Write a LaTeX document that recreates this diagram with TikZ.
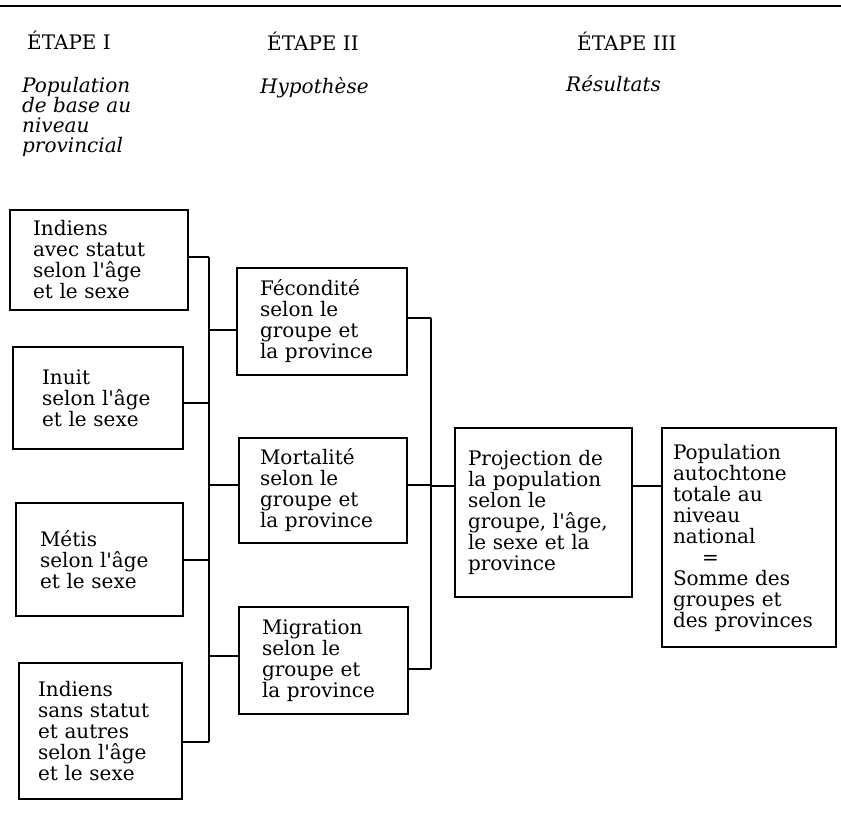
\documentclass[tikz,border=0pt]{standalone}
\usepackage{fontspec}
\setmainfont{DejaVu Serif}[Ligatures=TeXOff]
\tikzset{
  boite/.style={draw, line width=2pt, align=left, inner ysep=0pt,
    font=\fontsize{20}{21}\selectfont},
  lien/.style={line width=2pt},
  titre/.style={anchor=base west, inner sep=0pt, font=\fontsize{20}{20}\selectfont},
  soustitre/.style={anchor=north west, inner sep=0pt, align=left,
    font=\fontsize{20}{20}\selectfont\itshape}
}
\begin{document}
\begin{tikzpicture}[x=1pt,y=-1pt]
      \useasboundingbox (0,0) rectangle (841,835);
      \draw[line width=1.5pt] (0,6) -- (841,6);
      \draw
        (27,49) node[titre] (t1){ÉTAPE I}
        (267,50) node[titre] (t2){ÉTAPE II}
        (577,50) node[titre] (t3){ÉTAPE III}
        (22,77) node[soustitre] (s1){Population\\de base au\\niveau\\provincial}
        (260,77) node[soustitre] (s2){Hypothèse}
        (566,75) node[soustitre] (s3){Résultats};
      \draw
        (99,260) node[boite, inner xsep=23pt, text width=132pt, minimum height=100pt] (a1)
          {Indiens\\avec statut\\selon l'âge\\et le sexe}
        (98,398) node[boite, inner xsep=29pt, text width=112pt, minimum height=102pt] (a2)
          {Inuit\\selon l'âge\\et le sexe}
        (99.5,559.5) node[boite, inner xsep=24pt, text width=119pt, minimum height=113pt] (a3)
          {Métis\\selon l'âge\\et le sexe}
        (100.5,731) node[boite, inner xsep=19pt, text width=125pt, minimum height=136pt] (a4)
          {Indiens\\sans statut\\et autres\\selon l'âge\\et le sexe}
        (322,321.5) node[boite, inner xsep=23pt, text width=124pt, minimum height=107pt] (b1)
          {Fécondité\\selon le\\groupe et\\la province}
        (323,490.5) node[boite, inner xsep=21pt, text width=126pt, minimum height=105pt] (b2)
          {Mortalité\\selon le\\groupe et\\la province}
        (323.5,660.5) node[boite, inner xsep=23pt, text width=123pt, minimum height=107pt] (b3)
          {Migration\\selon le\\groupe et\\la province}
        (543.5,512.5) node[boite, inner xsep=13pt, text width=151pt, minimum height=169pt] (c1)
          {Projection de\\la population\\selon le\\groupe, l'âge,\\le sexe et la\\province}
        (749,537.5) node[boite, inner xsep=11pt, text width=152pt, minimum height=219pt] (c2)
          {Population\\autochtone\\totale au\\niveau\\national\\\hspace*{29pt}=\\Somme des\\groupes et\\des provinces};
      \coordinate (bus1) at (209,0);
      \coordinate (bus2) at (431,0);
      \coordinate (niv) at (0,486);
      \begin{scope}[lien]
        \foreach \n/\s in {a1/3pt,a2/-5pt,a3/0pt,a4/-11pt}
          \draw ([yshift=\s]\n.east) -- ([yshift=\s]\n.east -| bus1);
        \draw ([yshift=3pt]a1.east -| bus1) -- ([yshift=-11pt]a4.east -| bus1);
        \foreach \n/\s in {b1/-8.5pt,b2/5.5pt,b3/4.5pt}
          \draw ([yshift=\s]\n.west) -- ([yshift=\s]\n.west -| bus1);
        \foreach \n/\s in {b1/3.5pt,b2/5.5pt,b3/-8.5pt}
          \draw ([yshift=\s]\n.east) -- ([yshift=\s]\n.east -| bus2);
        \draw ([yshift=3.5pt]b1.east -| bus2) -- ([yshift=-8.5pt]b3.east -| bus2);
        \draw (niv -| bus2) -- (niv -| c1.west);
        \draw (niv -| c1.east) -- (niv -| c2.west);
      \end{scope}
    \end{tikzpicture}
\end{document}
